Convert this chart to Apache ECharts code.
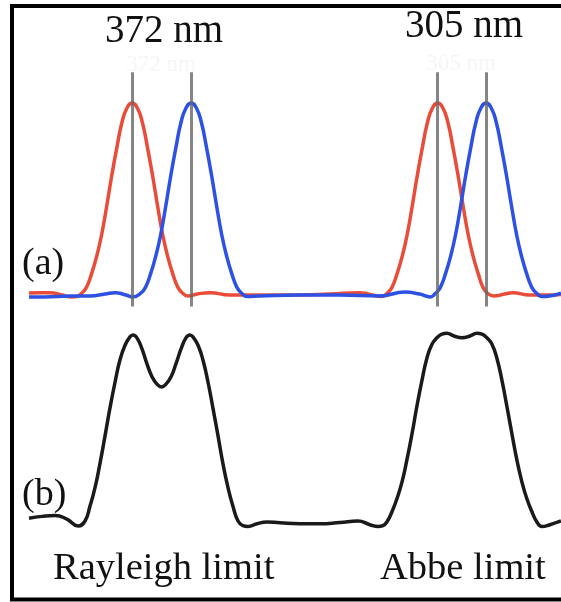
<!DOCTYPE html>
<html>
<head>
<meta charset="utf-8">
<style>
  html, body { margin: 0; padding: 0; background: #fff; }
  #chart { width: 561px; height: 602px; }
</style>
<script src="https://cdn.jsdelivr.net/npm/echarts@6/dist/echarts.min.js"></script>
</head>
<body>
<div id="chart"></div>
<script>
// Position along the sample, in nm; intensity normalised to the single-spot peak.
// (a) the two individual spots of each pair
const redSpot = [[0,0.01],[69,0.012],[132,0.012],[208,0],[271,-0.01],[300,-0.008],[330,0.008],[362,0.04],[394,0.11],[426,0.2],[458,0.315],[490,0.465],[522,0.625],[554,0.77],[586,0.9],[618,0.975],[650,1],[682,0.975],[714,0.9],[746,0.77],[778,0.625],[810,0.465],[842,0.315],[874,0.2],[906,0.11],[938,0.04],[970,0.008],[1002,-0.005],[1060,0.005],[1140,0.012],[1266,0],[1450,0],[1700,0],[1895,0.005],[2084,0.012],[2223,-0.008],[2255,0.008],[2287,0.04],[2319,0.11],[2351,0.2],[2383,0.315],[2415,0.465],[2447,0.625],[2479,0.77],[2511,0.9],[2543,0.975],[2575,1],[2607,0.975],[2639,0.9],[2671,0.77],[2703,0.625],[2735,0.465],[2767,0.315],[2799,0.2],[2831,0.11],[2863,0.035],[2895,0.005],[2927,-0.005],[2997,0.005],[3048,0.012],[3155,0],[3250,0],[3352,0.003]];

const blueSpot = [[0,-0.01],[100,-0.01],[258,-0.005],[384,-0.005],[480,0.005],[542,0.012],[611,0],[655,-0.01],[702,0.008],[734,0.04],[766,0.11],[798,0.2],[830,0.315],[862,0.465],[894,0.625],[926,0.77],[958,0.9],[990,0.975],[1022,1],[1054,0.975],[1086,0.9],[1118,0.77],[1150,0.625],[1182,0.465],[1214,0.315],[1246,0.2],[1278,0.11],[1310,0.04],[1342,0.008],[1374,-0.008],[1455,-0.005],[1706,0],[1958,0],[2210,-0.005],[2368,0.015],[2462,0.005],[2528,-0.01],[2560,0.008],[2592,0.04],[2624,0.11],[2656,0.2],[2688,0.315],[2720,0.465],[2752,0.625],[2784,0.77],[2816,0.9],[2848,0.975],[2880,1],[2912,0.975],[2944,0.9],[2976,0.77],[3008,0.625],[3040,0.465],[3072,0.315],[3104,0.2],[3136,0.11],[3168,0.04],[3200,0.008],[3232,-0.008],[3280,-0.005],[3352,0.01]];

// (b) the combined image of both spots
const combined = [[0,0.015],[82,0.025],[164,0.03],[239,0.01],[309,-0.027],[353,0],[384,0.08],[416,0.18],[447,0.31],[479,0.46],[510,0.61],[542,0.75],[573,0.87],[605,0.95],[636,0.995],[655,1.005],[680,0.99],[712,0.93],[743,0.85],[775,0.78],[806,0.74],[835,0.725],[863,0.74],[895,0.78],[926,0.85],[958,0.93],[989,0.99],[1014,1.005],[1033,0.995],[1065,0.95],[1096,0.87],[1128,0.75],[1159,0.61],[1191,0.46],[1222,0.31],[1254,0.18],[1285,0.08],[1317,0],[1348,-0.025],[1380,-0.03],[1436,-0.015],[1499,-0.005],[1581,-0.01],[1707,-0.015],[1833,-0.015],[1959,-0.008],[2073,0],[2148,-0.02],[2199,-0.03],[2230,-0.025],[2255,-0.005],[2287,0.05],[2318,0.12],[2350,0.21],[2381,0.33],[2413,0.47],[2444,0.62],[2476,0.76],[2507,0.88],[2539,0.955],[2570,0.99],[2602,1.01],[2633,1.015],[2678,1],[2728,0.99],[2778,1],[2822,1.015],[2854,1.01],[2885,0.99],[2917,0.955],[2948,0.88],[2980,0.76],[3011,0.62],[3043,0.47],[3074,0.33],[3106,0.21],[3137,0.12],[3169,0.05],[3200,-0.005],[3232,-0.03],[3282,-0.02],[3352,0]];

// spot centres (nm) and the vertical extent of their guide lines
const spotCentres = [650, 1022, 2575, 2880];
const guideSpan = [-0.06, 1.16];

const separations = ['372 nm', '305 nm'];
const panelTags = ['(a)', '(b)'];
const limitNames = ['Rayleigh limit', 'Abbe limit'];

const serif = '"Liberation Serif", "Times New Roman", serif';
const chart = echarts.init(document.getElementById('chart'), null, { renderer: 'canvas' });

const guides = spotCentres.map(c => [
  { coord: [c, guideSpan[0]] },
  { coord: [c, guideSpan[1]] }
]);

function label(text, x, y, size, align, fill) {
  return {
    type: 'text', x: x, y: y, z: 10,
    style: {
      text: text,
      font: size + 'px ' + serif,
      fill: fill || '#111',
      align: align,
      verticalAlign: 'middle'
    }
  };
}

chart.setOption({
  backgroundColor: '#fff',
  animation: false,
  grid: [
    { left: 29, right: 0, top: 64.6, height: 249.6 },
    { left: 29, right: 0, top: 317.5, height: 222 }
  ],
  xAxis: [
    { type: 'value', gridIndex: 0, min: 0, max: 3352, show: false },
    { type: 'value', gridIndex: 1, min: 0, max: 3352, show: false }
  ],
  yAxis: [
    { type: 'value', gridIndex: 0, min: -0.1, max: 1.2, show: false },
    { type: 'value', gridIndex: 1, min: -0.1, max: 1.1, show: false }
  ],
  series: [
    {
      type: 'line', xAxisIndex: 0, yAxisIndex: 0, data: redSpot,
      smooth: 0.5, symbol: 'none', clip: false,
      lineStyle: { color: '#e94d3a', width: 3.5 }
    },
    {
      type: 'line', xAxisIndex: 0, yAxisIndex: 0, data: blueSpot,
      smooth: 0.5, symbol: 'none', clip: false,
      lineStyle: { color: '#2d52e3', width: 3.5 },
      markLine: {
        silent: true, symbol: 'none', animation: false, z: 5,
        label: { show: false },
        lineStyle: { color: '#666', width: 3, type: 'solid', opacity: 0.8 },
        data: guides
      }
    },
    {
      type: 'line', xAxisIndex: 1, yAxisIndex: 1, data: combined,
      smooth: 0.5, symbol: 'none', clip: false,
      lineStyle: { color: '#1a1a1a', width: 3.5 }
    }
  ],
  graphic: [
    // frame
    { type: 'rect', z: 20, shape: { x: 12, y: 6, width: 560, height: 593.5 },
      style: { fill: 'none', stroke: '#000', lineWidth: 4 } },
    label(separations[0], 164, 32, 39, 'center'),
    label(separations[1], 464, 27, 39, 'center'),
    // faint echoes above the guide lines
    label(separations[0], 161, 65, 23, 'center', 'rgba(0,0,0,0.04)'),
    label(separations[1], 461, 64, 23, 'center', 'rgba(0,0,0,0.04)'),
    label(panelTags[0], 22, 264, 38, 'left'),
    label(panelTags[1], 22, 495, 38, 'left'),
    label(limitNames[0], 53, 569, 38.5, 'left'),
    label(limitNames[1], 380, 569, 38.5, 'left')
  ]
});
</script>
</body>
</html>
